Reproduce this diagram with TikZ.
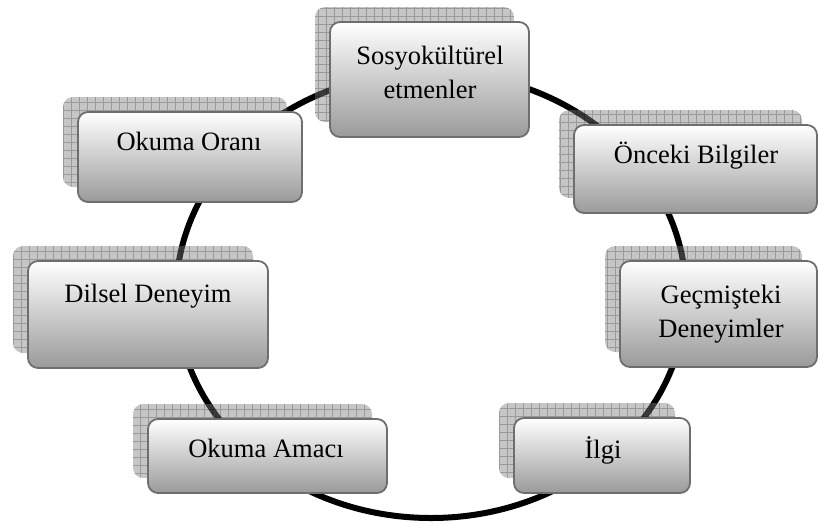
\documentclass[tikz,border=0pt]{standalone}
\usepackage{fontspec}
\setmainfont{Liberation Serif}
\usetikzlibrary{shapes.geometric}
\definecolor{boxedge}{HTML}{6E6E6E}
\definecolor{boxbot}{HTML}{9A9A9A}
\tikzset{
 ringstyle/.style={draw=black, line width=6pt, ellipse, minimum width=510pt, minimum height=446pt, inner sep=0pt},
 boxstyle/.style={draw=boxedge, line width=1.8pt, rounded corners=10pt, top color=white, bottom color=boxbot, inner sep=0pt},
 shadowstyle/.style={fill=black!50, fill opacity=0.45, rounded corners=10pt, inner sep=0pt,
   path picture={\draw[black, draw opacity=0.22, line width=0.6pt, step=8pt] (path picture bounding box.south west) grid (path picture bounding box.north east);}},
 lbl/.style={font=\fontsize{26.5}{34}\selectfont, align=center, anchor=base, inner sep=0pt}
}
\begin{document}
\begin{tikzpicture}[x=1pt,y=-1pt]
\useasboundingbox (0,0) rectangle (818,525);
\node[ringstyle] (ring) at (431,295) {};
% shadows
\node[shadowstyle, minimum width=199pt, minimum height=115pt] (s1) at (414.5,64.5) {};
\node[shadowstyle, minimum width=224pt, minimum height=90pt] (s2) at (175,142) {};
\node[shadowstyle, minimum width=243pt, minimum height=88pt] (s3) at (680.5,154) {};
\node[shadowstyle, minimum width=240pt, minimum height=107pt] (s4) at (133,299.5) {};
\node[shadowstyle, minimum width=197pt, minimum height=106pt] (s5) at (703.5,299) {};
\node[shadowstyle, minimum width=239pt, minimum height=74pt] (s6) at (252.5,441) {};
\node[shadowstyle, minimum width=176pt, minimum height=75pt] (s7) at (587,440.5) {};
% boxes
\node[boxstyle, minimum width=199pt, minimum height=115pt] (b1) at (429.5,79.5) {};
\node[boxstyle, minimum width=224pt, minimum height=90pt] (b2) at (190,157) {};
\node[boxstyle, minimum width=243pt, minimum height=88pt] (b3) at (695.5,169) {};
\node[boxstyle, minimum width=240pt, minimum height=107pt] (b4) at (148,314.5) {};
\node[boxstyle, minimum width=197pt, minimum height=106pt] (b5) at (718.5,314) {};
\node[boxstyle, minimum width=239pt, minimum height=74pt] (b6) at (267.5,456) {};
\node[boxstyle, minimum width=176pt, minimum height=75pt] (b7) at (602,455.5) {};
% labels
\node[lbl] (t1) at (430,98) {Sosyokültürel\\etmenler};
\node[lbl] (t2) at (189,150) {Okuma Oranı};
\node[lbl] (t3) at (696,163) {Önceki Bilgiler};
\node[lbl] (t4) at (148,302) {Dilsel Deneyim};
\node[lbl] (t5) at (721,337) {Geçmişteki\\Deneyimler};
\node[lbl] (t6) at (266,457) {Okuma Amacı};
\node[lbl] (t7) at (603,458) {İlgi};
\end{tikzpicture}
\end{document}
